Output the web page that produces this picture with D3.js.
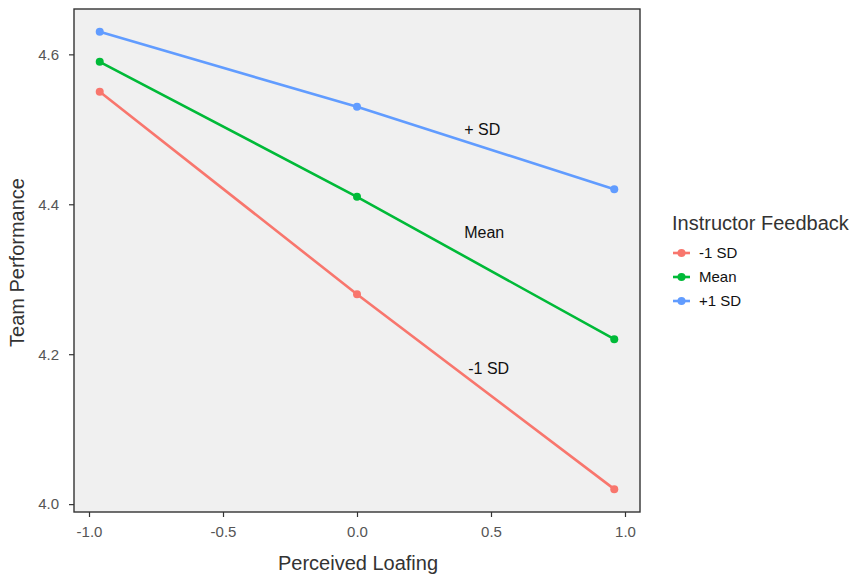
<!DOCTYPE html>
<html lang="en">
<head>
    <meta charset="UTF-8">
    <title>Team Performance by Perceived Loafing</title>
    <script src="https://cdn.jsdelivr.net/npm/d3@7"></script>
    <style>
        html, body {
            margin: 0;
            background: #fff;
            font-family: "Liberation Sans", Arial, sans-serif;
        }
    </style>
</head>
<body>
    <div id="vis"></div>
    <script>
        // data
        var loafing = [-0.96, 0, 0.96];
        var groups = ["-1 SD", "Mean", "+1 SD"];
        var lowSD = [4.55, 4.28, 4.02];
        var meanFb = [4.59, 4.41, 4.22];
        var highSD = [4.63, 4.53, 4.42];
        var xTicks = [-1.0, -0.5, 0.0, 0.5, 1.0];
        var yTicks = [4.0, 4.2, 4.4, 4.6];
        var notes = [
            {text: "+ SD", x: 0.4, y: 4.50},
            {text: "Mean", x: 0.4, y: 4.363},
            {text: "-1 SD", x: 0.415, y: 4.181}
        ];

        var colors = ["#F8766D", "#00BA38", "#619CFF"];
        var series = [lowSD, meanFb, highSD];

        var W = 858, H = 577;
        var panel = {left: 74, right: 640, top: 9, bottom: 512};

        var svg = d3.select("#vis").append("svg")
            .attr("width", W)
            .attr("height", H);

        // ggplot-style 5% expansion
        var xr = d3.extent(loafing);
        var xpad = (xr[1] - xr[0]) * 0.05;
        var allY = d3.merge(series);
        var yr = d3.extent(allY);
        var ypad = (yr[1] - yr[0]) * 0.05;

        var x = d3.scaleLinear()
            .domain([xr[0] - xpad, xr[1] + xpad])
            .range([panel.left, panel.right]);
        var y = d3.scaleLinear()
            .domain([yr[0] - ypad, yr[1] + ypad])
            .range([panel.bottom, panel.top]);

        svg.append("rect")
            .attr("x", panel.left)
            .attr("y", panel.top)
            .attr("width", panel.right - panel.left)
            .attr("height", panel.bottom - panel.top)
            .attr("fill", "#f0f0f0");

        var line = d3.line()
            .x(function(d, i) { return x(loafing[i]); })
            .y(function(d) { return y(d); });

        series.forEach(function(s, k) {
            svg.append("path")
                .datum(s)
                .attr("d", line)
                .attr("fill", "none")
                .attr("stroke", colors[k])
                .attr("stroke-width", 2.6);
            svg.selectAll(".pt" + k)
                .data(s)
                .enter().append("circle")
                .attr("class", "pt" + k)
                .attr("cx", function(d, i) { return x(loafing[i]); })
                .attr("cy", function(d) { return y(d); })
                .attr("r", 4)
                .attr("fill", colors[k]);
        });

        svg.selectAll(".note")
            .data(notes)
            .enter().append("text")
            .attr("class", "note")
            .attr("x", function(d) { return x(d.x); })
            .attr("y", function(d) { return y(d.y); })
            .attr("dy", "0.35em")
            .attr("font-size", 16)
            .attr("fill", "#111")
            .text(function(d) { return d.text; });

        // panel border
        svg.append("rect")
            .attr("x", panel.left)
            .attr("y", panel.top)
            .attr("width", panel.right - panel.left)
            .attr("height", panel.bottom - panel.top)
            .attr("fill", "none")
            .attr("stroke", "#333")
            .attr("stroke-width", 1.4);

        var xAxis = svg.append("g")
            .attr("transform", "translate(0," + panel.bottom + ")")
            .call(d3.axisBottom(x).tickValues(xTicks).tickSize(5).tickPadding(9));
        var yAxis = svg.append("g")
            .attr("transform", "translate(" + panel.left + ",0)")
            .call(d3.axisLeft(y).tickValues(yTicks).tickSize(5).tickPadding(10));

        [xAxis, yAxis].forEach(function(a) {
            a.select(".domain").remove();
            a.selectAll(".tick line").attr("stroke", "#333").attr("stroke-width", 1.2);
            a.selectAll(".tick text")
                .attr("fill", "#555")
                .attr("font-size", 15)
                .attr("font-family", "'Liberation Sans', Arial, sans-serif")
                .text(function(d) { return d3.format(".1f")(d).replace("−", "-"); });
        });

        svg.append("text")
            .attr("x", (panel.left + panel.right) / 2 + 1)
            .attr("y", 570)
            .attr("text-anchor", "middle")
            .attr("font-size", 20)
            .attr("fill", "#333")
            .text("Perceived Loafing");

        svg.append("text")
            .attr("transform", "translate(24," + ((panel.top + panel.bottom) / 2 + 2) + ") rotate(-90)")
            .attr("text-anchor", "middle")
            .attr("font-size", 20)
            .attr("fill", "#333")
            .text("Team Performance");

        // legend
        var legend = svg.append("g").attr("transform", "translate(672,0)");
        legend.append("text")
            .attr("x", 0)
            .attr("y", 230)
            .attr("font-size", 20)
            .attr("fill", "#333")
            .text("Instructor Feedback");

        var item = legend.selectAll(".item")
            .data(groups)
            .enter().append("g")
            .attr("class", "item")
            .attr("transform", function(d, i) { return "translate(0," + (253 + i * 24) + ")"; });
        item.append("line")
            .attr("x1", 1).attr("x2", 18)
            .attr("stroke", function(d, i) { return colors[i]; })
            .attr("stroke-width", 2.6);
        item.append("circle")
            .attr("cx", 9.5)
            .attr("r", 4)
            .attr("fill", function(d, i) { return colors[i]; });
        item.append("text")
            .attr("x", 27)
            .attr("dy", "0.35em")
            .attr("font-size", 15)
            .attr("fill", "#111")
            .text(function(d) { return d; });
    </script>
</body>
</html>
